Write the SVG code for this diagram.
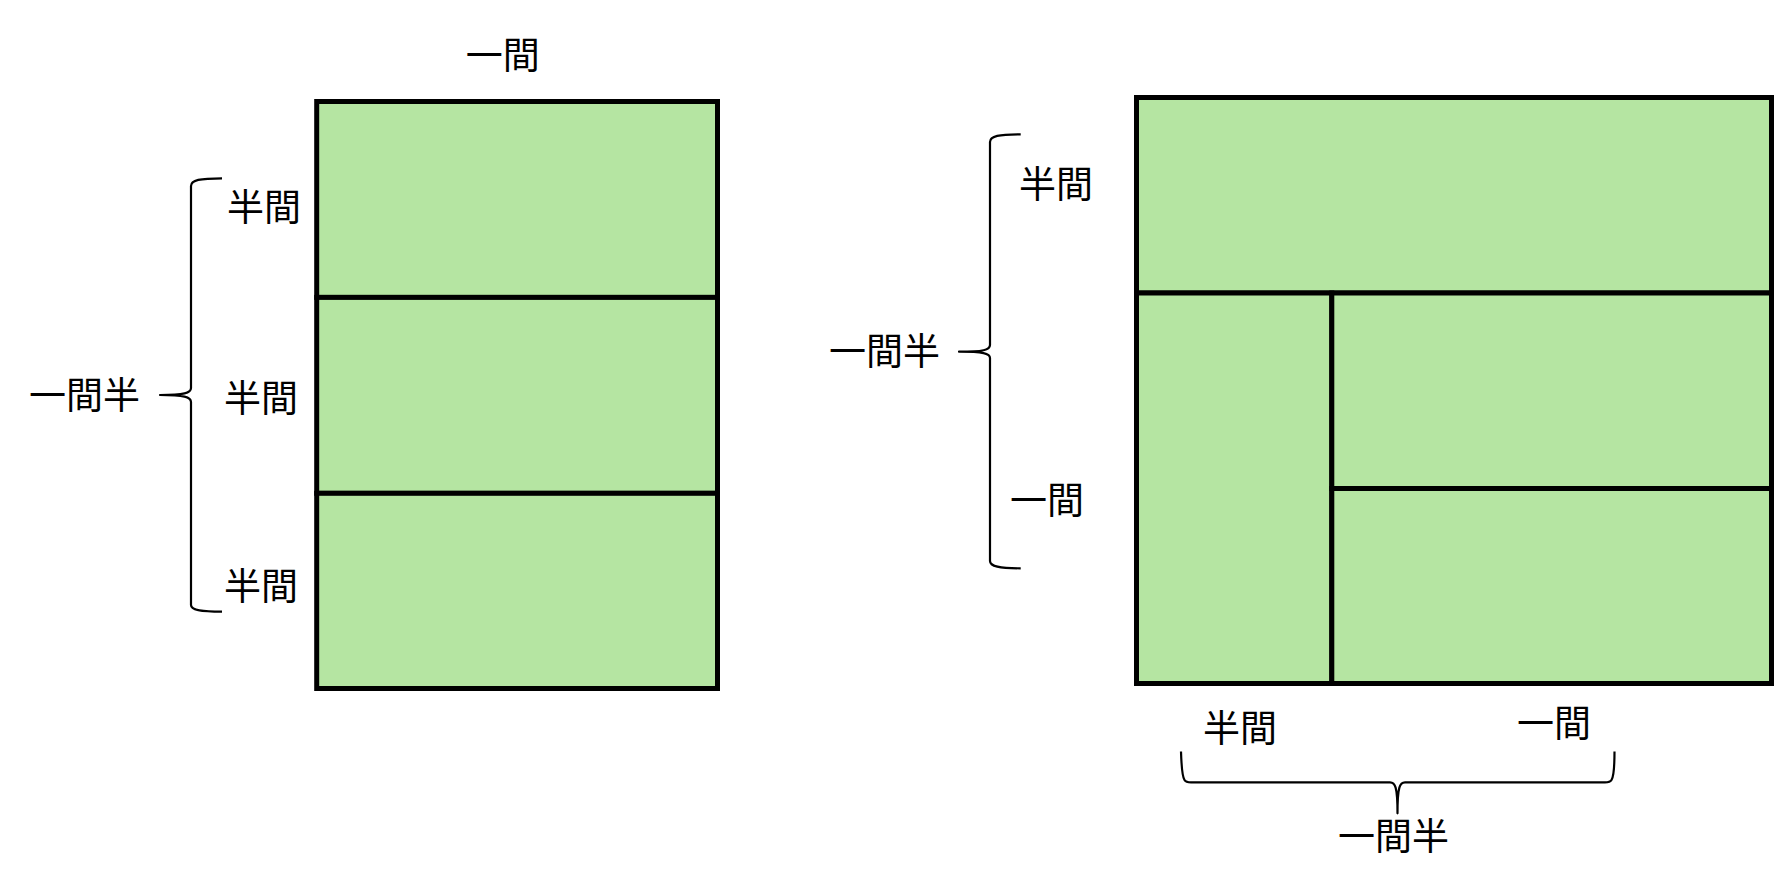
<svg xmlns="http://www.w3.org/2000/svg" width="1792" height="869" viewBox="0 0 1792 869">
  <style>
    .mat { fill: #b5e5a2; stroke: #000; stroke-width: 5; }
    .brace { fill: none; stroke: #000; stroke-width: 2.2; stroke-linejoin: round; }
    .lbl { font-family: "Noto Sans CJK JP", "Noto Sans CJK SC", sans-serif; font-size: 37px; fill: #000; text-anchor: middle; }
  </style>
  <rect width="1792" height="869" fill="#fff"/>

  <g id="left-room">
    <g id="L-mat1"><rect class="mat" x="316.7" y="101.5" width="400.8" height="195.9"/></g>
    <g id="L-mat2"><rect class="mat" x="316.7" y="297.4" width="400.8" height="195.9"/></g>
    <g id="L-mat3"><rect class="mat" x="316.7" y="493.3" width="400.8" height="195.2"/></g>
  </g>

  <g id="right-room">
    <g id="R-mat-top"><rect class="mat" x="1136.5" y="97.5" width="635" height="195.5"/></g>
    <g id="R-mat-left"><rect class="mat" x="1136.5" y="293" width="195.3" height="390.5"/></g>
    <g id="R-mat-mid"><rect class="mat" x="1331.8" y="293" width="439.7" height="195.5"/></g>
    <g id="R-mat-bot"><rect class="mat" x="1331.8" y="488.5" width="439.7" height="195"/></g>
  </g>

  <g id="connectors">
    <path class="brace" d="M222,178.3 C200,178.3 191,180 191,186 L191,388 C191,393 184,395 160,395 C184,395 191,397 191,402 L191,605 C191,610 200,611.7 222,611.7"/>
    <path class="brace" d="M1020.7,134.3 C999,134.3 990,136 990,142 L990,345 C990,350 983,351.7 959,351.7 C983,351.7 990,353.5 990,358 L990,561 C990,566.5 999,568.3 1020.7,568.3"/>
    <path class="brace" d="M1181,751.5 C1181.5,768 1182.5,777 1184.5,780 C1185.5,781.8 1187.5,782.4 1191,782.4 L1390,782.4 C1395,782.4 1397.5,786 1397.5,813.3 C1397.5,786 1400,782.4 1405,782.4 L1605,782.4 C1608.5,782.4 1610.5,781.8 1611.5,780 C1613.5,777 1614.5,768 1614.5,751.5"/>
  </g>

  <g id="labels">
    <text class="lbl" x="502.7" y="68.5">一間</text>
    <text class="lbl" x="264" y="220.5">半間</text>
    <text class="lbl" x="261" y="411.5">半間</text>
    <text class="lbl" x="261" y="599.5">半間</text>
    <text class="lbl" x="84.5" y="408.5">一間半</text>
    <text class="lbl" x="1056" y="198">半間</text>
    <text class="lbl" x="1047" y="513.5">一間</text>
    <text class="lbl" x="884.5" y="365">一間半</text>
    <text class="lbl" x="1240" y="742">半間</text>
    <text class="lbl" x="1554" y="736.5">一間</text>
    <text class="lbl" x="1393.5" y="850">一間半</text>
  </g>
</svg>
